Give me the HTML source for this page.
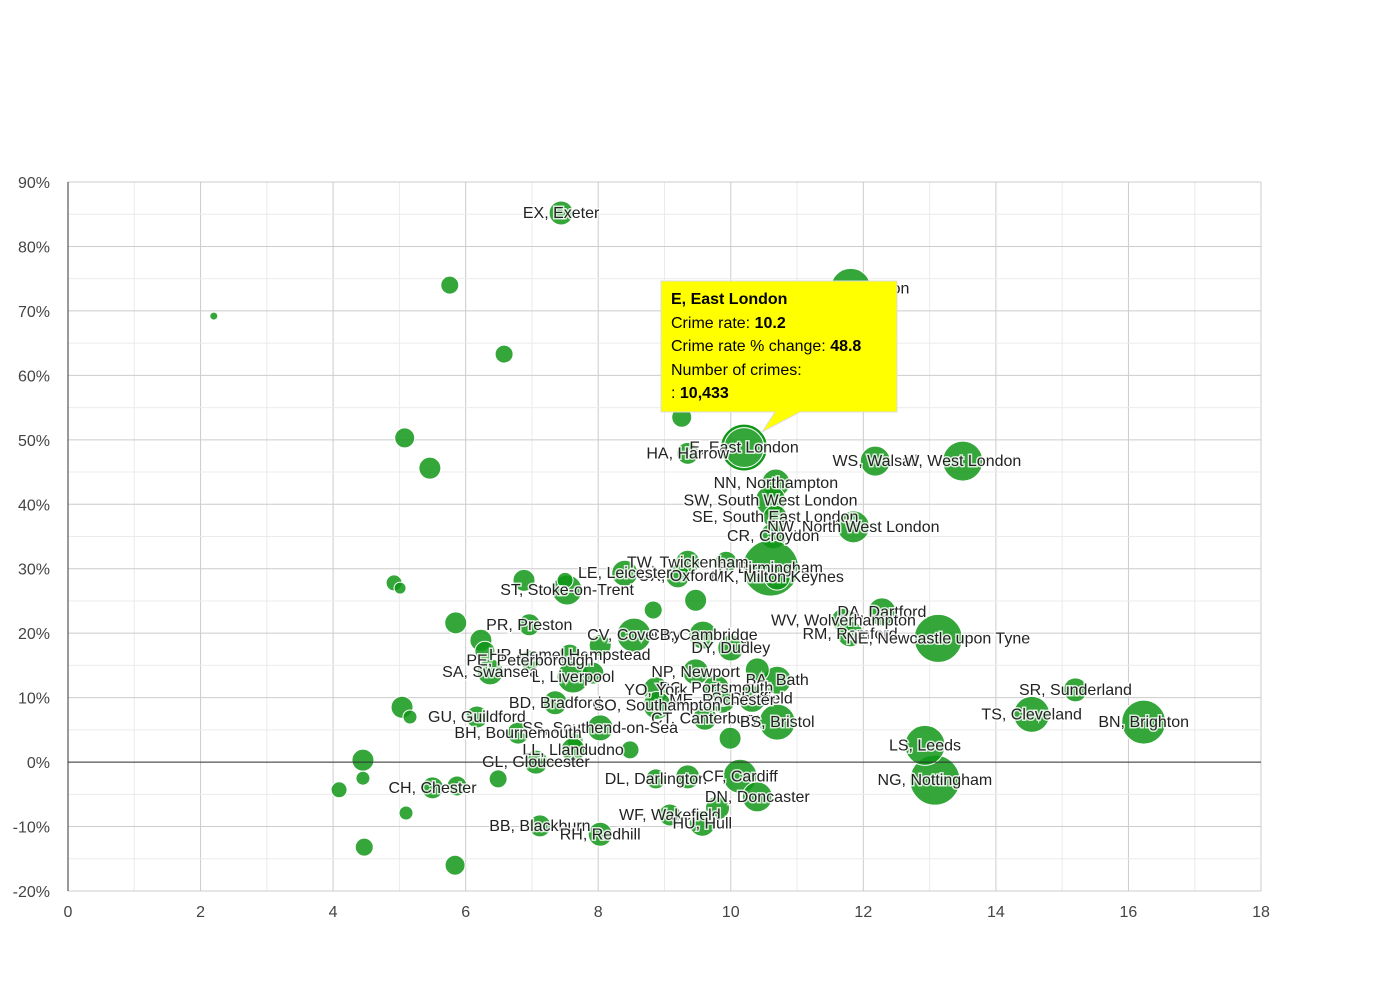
<!DOCTYPE html>
<html><head><meta charset="utf-8"><style>
body{margin:0;background:#fff;font-family:"Liberation Sans",Arial,sans-serif}
svg text{font-family:"Liberation Sans",Arial,sans-serif}
</style></head><body>
<svg id="chart" width="1390" height="980" xmlns="http://www.w3.org/2000/svg">
<g id="grid"></g>
<g id="bubbles"></g>
<g id="labels"></g>
<g id="axes"></g>
<g>
<path d="M661,281 H897 V412 H800 L762,432 L775,412 H661 Z" fill="#ffff00" stroke="#ddd" stroke-width="1"/>
<text x="671" y="304" font-size="16" font-weight="bold" fill="#000">E, East London</text>
<text x="671" y="328" font-size="16" fill="#000">Crime rate: <tspan font-weight="bold">10.2</tspan></text>
<text x="671" y="351" font-size="16" fill="#000">Crime rate % change: <tspan font-weight="bold">48.8</tspan></text>
<text x="671" y="375" font-size="16" fill="#000">Number of crimes:</text>
<text x="671" y="398" font-size="16" fill="#000">: <tspan font-weight="bold">10,433</tspan></text>
</g>
</svg>
<script>
const names=["EX, Exeter","","","","","","N, North London","","E, East London","HA, Harrow","WS, Walsall","W, West London","NN, Northampton","SW, South West London","SE, South East London","NW, North West London","CR, Croydon","B, Birmingham","MK, Milton Keynes","TW, Twickenham","","OX, Oxford","LE, Leicester","","ST, Stoke-on-Trent","","","","","","DA, Dartford","WV, Wolverhampton","RM, Romford","NE, Newcastle upon Tyne","","PR, Preston","","","CV, Coventry","CB, Cambridge","DY, Dudley","","HP, Hemel Hempstead","PE, Peterborough","SA, Swansea","L, Liverpool","NP, Newport","BA, Bath","","PO, Portsmouth","YO, York","","S, Sheffield","ME, Rochester","BD, Bradford","SO, Southampton","CT, Canterbury","BS, Bristol","","","","GU, Guildford","SS, Southend-on-Sea","BH, Bournemouth","","LL, Llandudno","","GL, Gloucester","","","","CH, Chester","","","DL, Darlington","CF, Cardiff","","DN, Doncaster","NG, Nottingham","LS, Leeds","SR, Sunderland","TS, Cleveland","BN, Brighton","WF, Wakefield","","HU, Hull","BB, Blackburn","RH, Redhill","","",""];
const crimeRate=[7.44,2.2,5.76,6.58,5.08,5.46,11.81,9.26,10.2,9.35,12.18,13.5,10.68,10.6,10.67,11.85,10.64,10.6,10.7,9.35,9.93,9.2,8.4,9.47,7.53,7.5,6.88,4.92,5.01,8.83,12.28,11.7,11.8,13.13,5.85,6.96,6.23,6.29,8.54,9.58,10.0,8.03,7.57,6.97,6.37,7.62,9.47,10.7,10.4,9.78,8.87,7.92,10.32,9.87,7.35,8.89,9.61,10.7,9.99,5.04,5.16,6.17,8.03,6.79,7.65,7.62,8.48,7.06,4.45,4.45,4.09,5.5,5.87,6.49,8.87,10.14,9.35,10.4,13.08,12.93,15.2,14.54,16.23,9.08,9.8,9.57,7.12,8.03,5.1,4.47,5.84];
const pctChange=[85.2,69.2,74.0,63.3,50.3,45.6,73.5,53.5,48.8,47.9,46.7,46.7,43.3,40.6,38.0,36.5,35.1,30.1,28.7,31.0,31.0,28.9,29.3,25.1,26.7,28.2,28.2,27.8,27.0,23.6,23.3,22.0,19.9,19.2,21.6,21.3,18.9,17.2,19.7,19.7,17.7,18.1,16.6,15.8,14.0,13.2,14.0,12.7,14.3,11.5,11.2,13.8,9.9,9.6,9.2,8.8,6.8,6.2,3.7,8.5,7.0,7.0,5.3,4.5,3.4,1.9,1.9,0.0,0.3,-2.5,-4.3,-4.0,-3.7,-2.6,-2.6,-2.2,-2.3,-5.4,-2.8,2.6,11.2,7.4,6.2,-8.2,-7.1,-9.5,-9.9,-11.2,-7.9,-13.2,-16.0];
const crimes=[3115,346,1752,1752,2163,2618,8653,2163,10433,2618,4868,8653,4240,4868,3115,5538,3656,16960,3656,3115,2618,3115,3656,2618,4868,1385,2618,1385,779,1752,4240,3115,3656,12461,2618,2618,2618,2163,6252,4240,3656,2618,2618,2163,3656,5538,3656,4240,3115,3656,3656,2618,4240,3656,3115,4240,3115,7010,2618,2618,1060,2618,3656,2618,1385,3115,1752,3115,2618,1060,1385,2618,2163,1752,2163,6252,3115,4868,13521,8653,3115,7010,10433,2618,3115,3656,2618,3115,1060,1752,2163];
const xTicks=[0,2,4,6,8,10,12,14,16,18];
const yTicks=[90,80,70,60,50,40,30,20,10,0,-10,-20];
const yTickLabels=["90%","80%","70%","60%","50%","40%","30%","20%","10%","0%","-10%","-20%"];
const NS="http://www.w3.org/2000/svg";
const X0=68,X1=1261,Y0=182,Y1=891,XMIN=0,XMAX=18,YMIN=-20,YMAX=90;
function sx(v){return X0+(v-XMIN)/(XMAX-XMIN)*(X1-X0);}
function sy(v){return Y1-(v-YMIN)/(YMAX-YMIN)*(Y1-Y0);}
function sr(c){return Math.sqrt(c)*0.215;}
function mk(t,a,p){const e=document.createElementNS(NS,t);for(const k in a)e.setAttribute(k,a[k]);p.appendChild(e);return e;}
const grid=document.getElementById('grid'),axes=document.getElementById('axes');
for(let v=XMIN;v<=XMAX;v+=1){const l=mk('line',{x1:sx(v),x2:sx(v),y1:Y0,y2:Y1,stroke:v%2?'#ebebeb':'#cccccc'},grid);

}
for(let v=YMIN;v<=YMAX;v+=5){const l=mk('line',{x1:X0,x2:X1,y1:sy(v),y2:sy(v),stroke:v%10?'#ebebeb':'#cccccc'},grid);

}
const zl=mk('line',{x1:X0,x2:X1,y1:sy(0),y2:sy(0),stroke:'#333'},axes);


const yl=mk('line',{x1:X0,x2:X0,y1:Y0,y2:Y1,stroke:'#333'},axes);


xTicks.forEach(v=>{const t=mk('text',{x:sx(v),y:917,'text-anchor':'middle','font-size':16,fill:'#444'},axes);t.textContent=v;

});
yTicks.forEach((v,i)=>{const t=mk('text',{x:50,y:sy(v)+6,'text-anchor':'end','font-size':16,fill:'#444'},axes);t.textContent=yTickLabels[i];

});
const bg=document.getElementById('bubbles'),lg=document.getElementById('labels');
crimeRate.forEach((x,i)=>{
const c=mk('circle',{cx:sx(x),cy:sy(pctChange[i]),r:sr(crimes[i]),fill:'#109618','fill-opacity':0.85,stroke:'#fff','stroke-width':1},bg);


if(names[i]==='E, East London'){c.setAttribute('stroke','#109618');c.setAttribute('stroke-width',2);mk('circle',{cx:sx(x),cy:sy(pctChange[i]),r:sr(crimes[i])-2,fill:'none',stroke:'#fff'},bg);}
if(names[i]){const t=mk('text',{x:sx(x),y:sy(pctChange[i])+5,'text-anchor':'middle','font-size':16,fill:'#222',stroke:'#fff','stroke-width':3,'paint-order':'stroke','stroke-opacity':0.8},lg);t.textContent=names[i];

}
});
</script>
</body></html>
